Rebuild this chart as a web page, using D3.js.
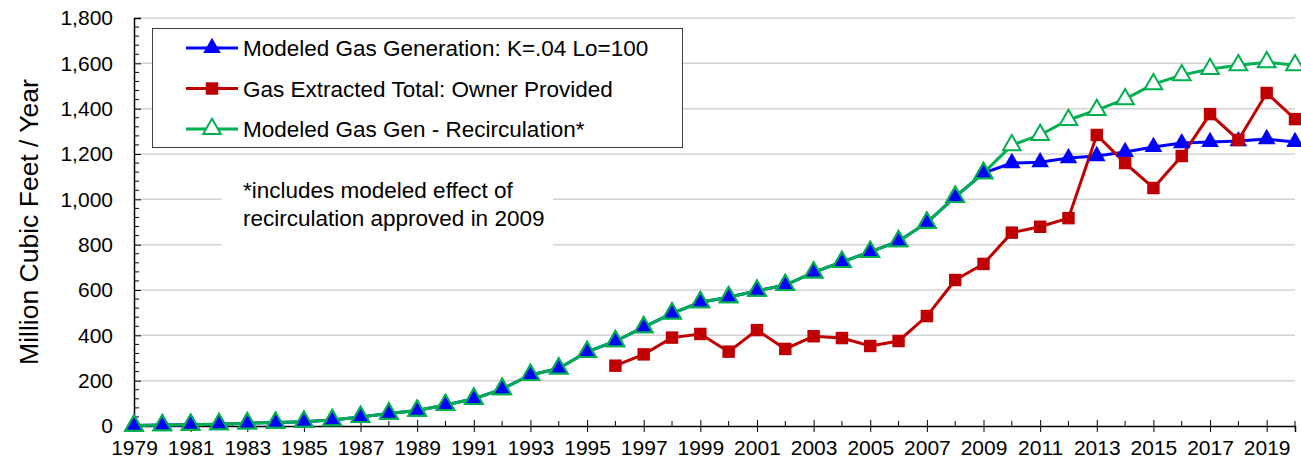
<!DOCTYPE html>
<html>
<head>
<meta charset="utf-8">
<script src="https://cdn.jsdelivr.net/npm/d3@7"></script>
<style>
  body { margin: 0; background: #fff; }
  text { font-family: "Liberation Sans", Arial, sans-serif; fill: #000; }
</style>
</head>
<body>
<div id="chart"></div>
<script>
// years shown on the category axis
var years = d3.range(1979, 2021);

// modeled generation, identical for both models up to 2009
var sharedGen = [2, 4, 6, 8, 12, 15, 19, 26, 40, 55, 68, 93, 120, 163, 225, 254, 327, 374, 436,
                 497, 546, 568, 597, 622, 678, 724, 768, 815, 897, 1011, 1116];
// 2010-2020
var blueTail = [1160, 1164, 1182, 1191, 1209, 1231, 1248, 1253, 1257, 1266, 1253];
var greenTail = [1239, 1284, 1350, 1394, 1442, 1508, 1548, 1575, 1592, 1605, 1592];
// owner provided extraction, 1996-2020
var extractedYears = d3.range(1996, 2021);
var extracted = [266, 316, 390, 406, 328, 423, 340, 396, 388, 353, 375, 485, 644, 715, 853,
                 879, 917, 1284, 1160, 1050, 1191, 1376, 1262, 1469, 1354];

var yTicks = [0, 200, 400, 600, 800, 1000, 1200, 1400, 1600, 1800];
var legendLabels = ["Modeled Gas Generation: K=.04 Lo=100",
                    "Gas Extracted Total: Owner Provided",
                    "Modeled Gas Gen - Recirculation*"];
var noteLines = ["*includes modeled effect of", "recirculation approved in 2009"];

var blue = sharedGen.concat(blueTail).map(function(v, i) { return {year: years[i], value: v}; });
var green = sharedGen.concat(greenTail).map(function(v, i) { return {year: years[i], value: v}; });
var red = extracted.map(function(v, i) { return {year: extractedYears[i], value: v}; });

var W = 1301, H = 465;
var margin = {top: 18, right: 6, bottom: 39, left: 134};

var svg = d3.select("#chart").append("svg")
    .attr("width", W)
    .attr("height", H);

var x = d3.scaleLinear().domain([1979, 2020]).range([margin.left, W - margin.right]);
var y = d3.scaleLinear().domain([0, 1800]).range([H - margin.bottom, margin.top]);

// gridlines
svg.append("g")
  .selectAll("line")
  .data(yTicks.filter(function(d) { return d > 0; }))
  .enter().append("line")
    .attr("x1", x(1979)).attr("x2", x(2020))
    .attr("y1", function(d) { return y(d); })
    .attr("y2", function(d) { return y(d); })
    .attr("stroke", "#d3d3d3")
    .attr("stroke-width", 1.5);

// white box behind the note hides the gridlines
svg.append("rect")
  .attr("x", 222).attr("y", 160).attr("width", 331).attr("height", 96)
  .attr("fill", "#fff");

// y axis
var yAxis = svg.append("g")
  .attr("transform", "translate(" + x(1979) + ",0)")
  .call(d3.axisLeft(y).tickValues(yTicks).tickSize(-7).tickPadding(21)
        .tickFormat(d3.format(",")));
yAxis.select(".domain").attr("stroke", "#000").attr("stroke-width", 1.5);
yAxis.selectAll("text").attr("font-size", 21).attr("font-family", "Liberation Sans, Arial, sans-serif");
// minor y ticks
yAxis.append("g").selectAll("line")
  .data(d3.range(40, 1800, 40).filter(function(d) { return d % 200 !== 0; }))
  .enter().append("line")
    .attr("x1", 0).attr("x2", 5)
    .attr("y1", function(d) { return y(d); })
    .attr("y2", function(d) { return y(d); })
    .attr("stroke", "#000");

// x axis
var xAxis = svg.append("g")
  .attr("transform", "translate(0," + y(0) + ")")
  .call(d3.axisBottom(x).tickValues(years.filter(function(d) { return (d - 1979) % 2 === 0; }))
        .tickSize(6).tickPadding(8).tickFormat(d3.format("d")));
xAxis.select(".domain").attr("stroke", "#000").attr("stroke-width", 1.5);
xAxis.selectAll(".tick line").attr("y1", -6).attr("y2", 6);
xAxis.selectAll("text").attr("font-size", 21).attr("font-family", "Liberation Sans, Arial, sans-serif");
xAxis.append("g").selectAll("line")
  .data(years.filter(function(d) { return (d - 1979) % 2 === 1; }))
  .enter().append("line")
    .attr("x1", function(d) { return x(d); })
    .attr("x2", function(d) { return x(d); })
    .attr("y1", -5).attr("y2", 0)
    .attr("stroke", "#000");

// y axis title
svg.append("text")
  .attr("transform", "translate(38," + (margin.top + (H - margin.bottom - margin.top) / 2) + ") rotate(-90)")
  .attr("text-anchor", "middle")
  .attr("font-size", 26.5)
  .text("Million Cubic Feet / Year");

var line = d3.line()
  .x(function(d) { return x(d.year); })
  .y(function(d) { return y(d.value); });

var colors = {blue: "#0000ff", red: "#c00000", green: "#00b050"};
var tri = d3.symbol().type(d3.symbolTriangle).size(135);
var sq = d3.symbol().type(d3.symbolSquare).size(155);

// lines
svg.append("path").datum(blue).attr("fill", "none").attr("stroke", colors.blue).attr("stroke-width", 3).attr("d", line);
svg.append("path").datum(red).attr("fill", "none").attr("stroke", colors.red).attr("stroke-width", 3).attr("d", line);
svg.append("path").datum(green).attr("fill", "none").attr("stroke", colors.green).attr("stroke-width", 3).attr("d", line);

function place(d) { return "translate(" + x(d.year) + "," + y(d.value) + ")"; }

// green hollow markers (white inside)
svg.append("g").selectAll("path").data(green).enter().append("path")
  .attr("d", tri).attr("transform", place)
  .attr("fill", "#fff").attr("stroke", colors.green).attr("stroke-width", 2);
// blue filled markers
svg.append("g").selectAll("path").data(blue).enter().append("path")
  .attr("d", tri).attr("transform", place)
  .attr("fill", colors.blue);
// red squares
svg.append("g").selectAll("path").data(red).enter().append("path")
  .attr("d", sq).attr("transform", place)
  .attr("fill", colors.red);
// green outlines on top where the models coincide
svg.append("g").selectAll("path").data(green.filter(function(d) { return d.year <= 2009; })).enter().append("path")
  .attr("d", tri).attr("transform", place)
  .attr("fill", "none").attr("stroke", colors.green).attr("stroke-width", 2);

// legend
var legend = svg.append("g");
legend.append("rect")
  .attr("x", 152.5).attr("y", 28.5).attr("width", 530).attr("height", 119)
  .attr("fill", "#fff").attr("stroke", "#404040").attr("stroke-width", 1);
var keys = [
  {c: colors.blue, sym: tri, fill: colors.blue},
  {c: colors.red, sym: sq, fill: colors.red},
  {c: colors.green, sym: tri, fill: "#fff"}
];
keys.forEach(function(k, i) {
  var ly = 48 + i * 40.5;
  legend.append("line").attr("x1", 186).attr("x2", 238).attr("y1", ly).attr("y2", ly)
    .attr("stroke", k.c).attr("stroke-width", 3);
  legend.append("path").attr("d", k.sym).attr("transform", "translate(212," + ly + ")")
    .attr("fill", k.fill).attr("stroke", i === 2 ? k.c : "none").attr("stroke-width", 2);
  legend.append("text").attr("x", 243).attr("y", ly + 8).attr("font-size", 22.5).text(legendLabels[i]);
});

// note
svg.append("g").selectAll("text").data(noteLines).enter().append("text")
  .attr("x", 243).attr("y", function(d, i) { return 198 + i * 28; })
  .attr("font-size", 22.5)
  .text(function(d) { return d; });
</script>
</body>
</html>
